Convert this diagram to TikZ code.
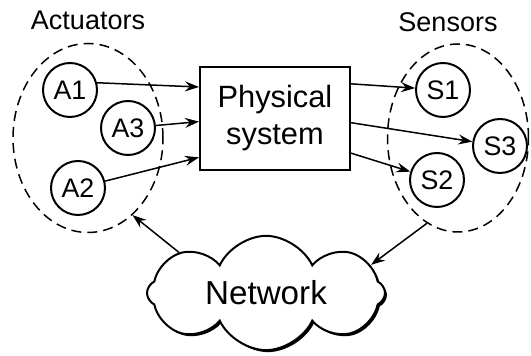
\documentclass[tikz,border=0pt]{standalone}
\usepackage{fontspec}
\setmainfont{Liberation Sans}
\usetikzlibrary{arrows.meta,calc,shapes.geometric,shapes.symbols,shadows}
\begin{document}
\begin{tikzpicture}[x=0.5pt,y=-0.5pt,
  dev/.style={draw,circle,line width=1pt,minimum size=27pt,inner sep=0pt,font=\fontsize{13.4}{15}\selectfont},
  grp/.style={draw,ellipse,line width=0.75pt,dash pattern=on 5pt off 3pt,inner sep=0pt},
  arr/.style={line width=0.75pt,-{Stealth[length=7pt,width=5pt,inset=2.4pt]}},
  lbl/.style={font=\fontsize{13.5}{15}\selectfont}]
\useasboundingbox (0,0) rectangle (531,356);
\node[lbl] (actlbl) at (88,20) {Actuators};
\node[lbl] (senlbl) at (448,22) {Sensors};
\node[grp,minimum width=75pt,minimum height=94.5pt] (act) at (88,138) {};
\node[grp,minimum width=70.5pt,minimum height=94pt] (sen) at (458,138) {};
\node[dev] (A1) at (70,90) {A1};
\node[dev] (A3) at (128,128) {A3};
\node[dev] (A2) at (78,188) {A2};
\node[dev] (S1) at (443,90) {S1};
\node[dev] (S3) at (500,146) {S3};
\node[dev] (S2) at (437,180) {S2};
\node[draw,line width=1pt,minimum width=75pt,minimum height=51.5pt,align=center,
  font=\fontsize{15.4}{18.5}\selectfont] (sys) at (275,118.5) {Physical\\system};
\node[cloud,draw,cloud puffs=8,cloud puff arc=130,aspect=2.2,minimum width=119pt,minimum height=53.5pt,
  line width=1pt,fill=white,inner sep=0pt,
  drop shadow={shadow xshift=1pt,shadow yshift=-1pt,fill=black,opacity=1},
  font=\fontsize{16.6}{19}\selectfont] (net) at (266,293) {Network};
\draw[arr] (A1.15) -- ($(sys.north west)!0.2!(sys.south west)$);
\draw[arr] (A3) -- ($(sys.north west)!0.53!(sys.south west)$);
\draw[arr] (A2) -- ($(sys.north west)!0.87!(sys.south west)$);
\draw[arr] ($(sys.north east)!0.17!(sys.south east)$) -- (S1);
\draw[arr] ($(sys.north east)!0.54!(sys.south east)$) -- (S3);
\draw[arr] ($(sys.north east)!0.83!(sys.south east)$) -- (S2);
\draw[arr] (net.155) -- (act.-60);
\draw[arr] (sen.-110) -- (net.15);
\end{tikzpicture}
\end{document}
